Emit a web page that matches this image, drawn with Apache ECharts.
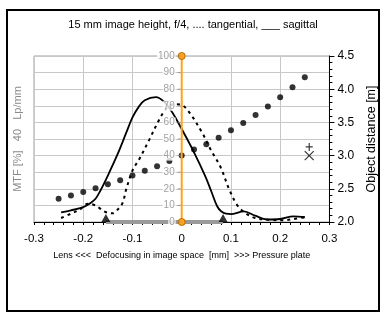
<!DOCTYPE html>
<html>
<head>
<meta charset="utf-8">
<script src="https://cdn.jsdelivr.net/npm/echarts@6/dist/echarts.min.js"></script>
<style>
html,body{margin:0;padding:0;background:#fff;}
#chart{width:386px;height:323px;}
</style>
</head>
<body>
<div id="chart"></div>
<script>
// Sagittal MTF at 40 Lp/mm [%] against defocus in image space [mm]
const sagX   = [-0.245, -0.225, -0.2, -0.185, -0.175, -0.165, -0.15, -0.13, -0.113, -0.1, -0.087, -0.075, -0.0525, -0.036, -0.019, 0.0, 0.025, 0.048, 0.06, 0.072, 0.08, 0.09, 0.102, 0.126, 0.149, 0.173, 0.2, 0.227, 0.25];
const sagMTF = [5.8, 7.0, 9.0, 11.5, 14.0, 19.0, 28.0, 41.0, 53.5, 63.0, 69.5, 73.3, 75.2, 72.5, 66.0, 56.0, 42.0, 27.5, 18.5, 9.5, 6.5, 5.0, 4.8, 6.4, 3.8, 1.5, 1.8, 3.4, 3.0];

// Tangential MTF at 40 Lp/mm [%]
const tanX   = [-0.245, -0.225, -0.207, -0.19, -0.175, -0.167, -0.155, -0.14, -0.13, -0.12, -0.113, -0.1, -0.086, -0.066, -0.046, -0.032, -0.015, 0.0, 0.018, 0.042, 0.06, 0.079, 0.096, 0.112, 0.129, 0.149, 0.176, 0.207, 0.227, 0.25];
const tanMTF = [2.4, 5.0, 7.5, 11.0, 10.0, 8.4, 6.0, 5.2, 7.5, 11.5, 19.4, 31.0, 38.0, 49.5, 61.5, 68.0, 71.0, 70.5, 65.0, 53.5, 43.0, 33.0, 20.0, 10.5, 5.4, 2.4, 1.4, 1.0, 1.8, 2.8];

// Object distance in focus for each defocus position [m]
const distX = [-0.25, -0.225, -0.2, -0.175, -0.15, -0.125, -0.1, -0.075, -0.05, -0.025, 0, 0.025, 0.05, 0.075, 0.1, 0.125, 0.15, 0.175, 0.2, 0.225, 0.25];
const distM = [2.35, 2.40, 2.45, 2.51, 2.57, 2.63, 2.70, 2.77, 2.84, 2.92, 3.00, 3.09, 3.17, 3.27, 3.38, 3.49, 3.61, 3.74, 3.88, 4.03, 4.18];

// Depth-of-focus limits on the defocus axis [mm]
const focusLimits = [-0.154, 0.084];

// Reference distances marked at the right edge [m]
const refX = 0.259;
const refCross = 3.0;
const refPlus = 3.13;

// MTF scale labels drawn along the in-focus position (defocus = 0)
const mtfTicks = [0, 10, 20, 30, 40, 50, 60, 70, 80, 90, 100];

// Axis ranges: [min, max, interval]
const defocusRange = [-0.3, 0.3, 0.1];
const mtfRange = [0, 100, 10];
const distRange = [2.0, 4.5, 0.5];

const FONT = 'Liberation Sans, Arial, Helvetica, sans-serif';
const GRID = '#c8c8c8';
const GREY = '#8a8a8a';
const ORANGE = '#ffa31a';

const zip = (xs, ys) => xs.map((x, i) => [x, ys[i]]);
const fmtX = v => Math.abs(v) < 1e-9 ? '0' : v.toFixed(1);

const chart = echarts.init(document.getElementById('chart'), null, {renderer: 'canvas'});

chart.setOption({
  animation: false,
  textStyle: {fontFamily: FONT},
  title: {
    text: '15 mm image height, f/4, .... tangential, ___ sagittal',
    left: 'center', top: 19, padding: 0,
    textStyle: {fontSize: 11, fontWeight: 'normal', color: '#000', fontFamily: FONT}
  },
  grid: {left: 34, right: 55, top: 56, bottom: 101, show: true, borderColor: '#a0a0a0', borderWidth: 1},
  xAxis: {
    type: 'value', min: defocusRange[0], max: defocusRange[1], interval: defocusRange[2],
    axisLine: {onZero: false, lineStyle: {color: '#000', width: 1}},
    axisTick: {show: true, length: 3, lineStyle: {color: '#000'}},
    minorTick: {show: true, splitNumber: 5, length: 3, lineStyle: {color: '#000'}},
    splitLine: {show: true, lineStyle: {color: GRID}},
    axisLabel: {margin: 11, fontSize: 11.5, color: '#000', formatter: fmtX},
    name: 'Lens <<<  Defocusing in image space  [mm]  >>> Pressure plate',
    nameLocation: 'middle', nameGap: 29,
    nameTextStyle: {fontSize: 9, color: '#000'}
  },
  yAxis: [
    {
      type: 'value', min: mtfRange[0], max: mtfRange[1], interval: mtfRange[2], position: 'left',
      axisLine: {show: false, onZero: false}, axisTick: {show: false}, axisLabel: {show: false},
      splitLine: {show: true, lineStyle: {color: GRID}},
      name: 'MTF [%]   40   Lp/mm', nameLocation: 'middle', nameRotate: 90, nameGap: 11,
      nameTextStyle: {fontSize: 11, color: GREY}
    },
    {
      type: 'value', min: distRange[0], max: distRange[1], interval: distRange[2], position: 'right',
      axisLine: {show: true, onZero: false, lineStyle: {color: '#000', width: 1}},
      axisTick: {show: true, length: 5, lineStyle: {color: '#000'}},
      minorTick: {show: true, splitNumber: 5, length: 3, lineStyle: {color: '#000'}},
      splitLine: {show: false},
      axisLabel: {margin: 8, fontSize: 12, color: '#000', formatter: v => v.toFixed(1)},
      name: 'Object distance [m]', nameLocation: 'middle', nameRotate: 90, nameGap: 27,
      nameTextStyle: {fontSize: 12.5, color: '#000'}
    }
  ],
  series: [
    {
      name: 'sagittal', type: 'line', yAxisIndex: 0, data: zip(sagX, sagMTF),
      smooth: 0.35, showSymbol: false, z: 3,
      lineStyle: {color: '#000', width: 1.8}
    },
    {
      name: 'tangential', type: 'line', yAxisIndex: 0, data: zip(tanX, tanMTF),
      smooth: 0.35, showSymbol: false, z: 3,
      lineStyle: {color: '#000', width: 2, type: [3, 4]}
    },
    {
      name: 'object distance', type: 'scatter', yAxisIndex: 1, data: zip(distX, distM),
      symbol: 'circle', symbolSize: 6, clip: false, z: 4,
      itemStyle: {color: '#000'}
    },
    {
      name: 'depth of focus', type: 'line', yAxisIndex: 0,
      data: focusLimits.map(x => [x, 0]),
      symbol: 'none', clip: false, z: 5,
      lineStyle: {color: '#9a9a9a', width: 4}
    },
    {
      name: 'focus limits', type: 'scatter', yAxisIndex: 0,
      data: focusLimits.map(x => [x, 0]),
      symbol: 'triangle', symbolSize: [9, 8], symbolOffset: [0, -4], clip: false, z: 6,
      itemStyle: {color: '#000'}
    },
    {
      name: 'in focus', type: 'line', yAxisIndex: 0,
      data: [[0, mtfRange[0]], [0, mtfRange[1]]],
      symbol: 'circle', symbolSize: 7, clip: false, z: 7,
      lineStyle: {color: ORANGE, width: 2},
      itemStyle: {color: ORANGE, borderColor: '#b86a00', borderWidth: 1}
    },
    {
      name: 'MTF scale', type: 'scatter', yAxisIndex: 0,
      data: mtfTicks.map(v => [0, v]),
      symbol: 'rect', symbolSize: [3, 1], symbolOffset: [-2.5, 0], clip: false, z: 8,
      itemStyle: {color: GREY},
      label: {
        show: true, position: 'left', distance: 2,
        formatter: p => String(p.value[1]),
        fontSize: 10, color: GREY, fontFamily: FONT,
        backgroundColor: '#fff', padding: [0, 1]
      }
    },
    {
      name: 'reference', type: 'scatter', yAxisIndex: 1, clip: false, z: 6,
      data: [
        {value: [refX, refCross], symbol: 'path://M0,0L10,10M10,0L0,10', symbolSize: [9, 9]},
        {value: [refX, refPlus], symbol: 'path://M5,0L5,10M0,5L10,5', symbolSize: [7, 8]}
      ],
      itemStyle: {color: 'rgba(0,0,0,0)', borderColor: '#000', borderWidth: 1.2}
    }
  ],
  graphic: [
    {
      type: 'rect', z: 100, silent: true,
      shape: {x: 7, y: 10, width: 372, height: 301},
      style: {fill: 'none', stroke: '#000', lineWidth: 2}
    }
  ]
});
</script>
</body>
</html>
